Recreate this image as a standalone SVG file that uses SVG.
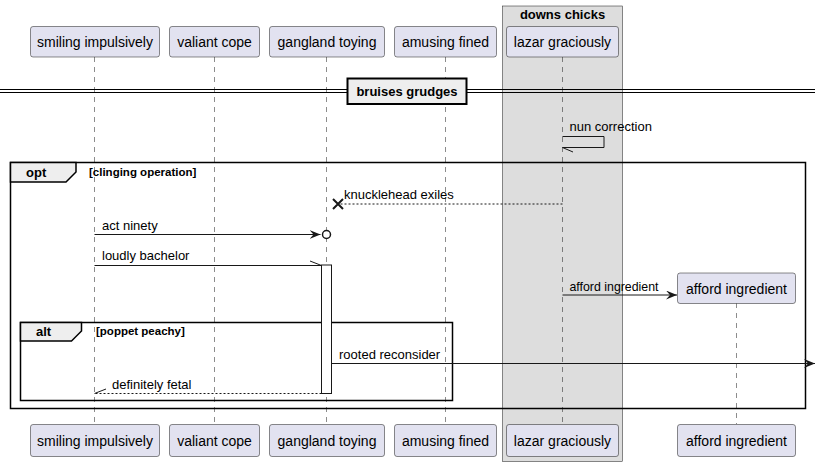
<svg xmlns="http://www.w3.org/2000/svg" width="821" height="466" viewBox="0 0 821 466">
<defs>
<style>
.p{fill:#E2E2F0;stroke:#181818;stroke-width:0.5}
.pt{font-family:"Liberation Sans",Arial,sans-serif;font-size:14px;fill:#000;text-anchor:middle}
.ll{stroke:#181818;stroke-width:0.5;stroke-dasharray:5,5}
.m{stroke:#181818;stroke-width:1;fill:none}
.md{stroke:#181818;stroke-width:1;fill:none;stroke-dasharray:2,2}
.mt{font-family:"Liberation Sans",Arial,sans-serif;font-size:13px;fill:#000}
.fr{fill:none;stroke:#000;stroke-width:1.5}
.tab{fill:#EEEEEE;stroke:#000;stroke-width:1.5}
.fl{font-family:"Liberation Sans",Arial,sans-serif;font-size:13px;font-weight:bold;fill:#000}
.gd{font-family:"Liberation Sans",Arial,sans-serif;font-size:11.5px;font-weight:bold;fill:#000}
</style>
<marker id="ah" markerWidth="11" markerHeight="9" refX="11" refY="4.5" orient="auto" markerUnits="userSpaceOnUse">
<polygon points="0,0 11,4.5 0,9 4,4.5" fill="#181818"/>
</marker>
</defs>
<rect width="821" height="466" fill="#FFFFFF"/>
<g id="box-downs-chicks">
<rect x="502.5" y="6" width="120" height="455.5" fill="#DDDDDD" stroke="#181818" stroke-width="0.5"/>
<text x="562.5" y="19" class="fl" text-anchor="middle">downs chicks</text>
</g>
<g id="lifelines">
<line class="ll" x1="94.5" y1="57" x2="94.5" y2="424"/>
<line class="ll" x1="214.5" y1="57" x2="214.5" y2="424"/>
<line class="ll" x1="326.5" y1="57" x2="326.5" y2="424"/>
<line class="ll" x1="445.5" y1="57" x2="445.5" y2="424"/>
<line class="ll" x1="562.5" y1="57" x2="562.5" y2="424"/>
<line class="ll" x1="736.5" y1="303" x2="736.5" y2="424"/>
</g>
<g id="p-smiling-impulsively">
<rect class="p" x="30.5" y="26.5" width="129" height="30.5" rx="2.5"/>
<text class="pt" x="95" y="47">smiling impulsively</text>
<rect class="p" x="30.5" y="424.5" width="129" height="32" rx="2.5"/>
<text class="pt" x="95" y="446">smiling impulsively</text>
</g>
<g id="p-valiant-cope">
<rect class="p" x="169.5" y="26.5" width="90" height="30.5" rx="2.5"/>
<text class="pt" x="214.5" y="47">valiant cope</text>
<rect class="p" x="169.5" y="424.5" width="90" height="32" rx="2.5"/>
<text class="pt" x="214.5" y="446">valiant cope</text>
</g>
<g id="p-gangland-toying">
<rect class="p" x="269.5" y="26.5" width="115" height="30.5" rx="2.5"/>
<text class="pt" x="327" y="47">gangland toying</text>
<rect class="p" x="269.5" y="424.5" width="115" height="32" rx="2.5"/>
<text class="pt" x="327" y="446">gangland toying</text>
</g>
<g id="p-amusing-fined">
<rect class="p" x="394.5" y="26.5" width="102" height="30.5" rx="2.5"/>
<text class="pt" x="445.5" y="47">amusing fined</text>
<rect class="p" x="394.5" y="424.5" width="102" height="32" rx="2.5"/>
<text class="pt" x="445.5" y="446">amusing fined</text>
</g>
<g id="p-lazar-graciously">
<rect class="p" x="506.5" y="26.5" width="112" height="30.5" rx="2.5"/>
<text class="pt" x="562.5" y="47">lazar graciously</text>
<rect class="p" x="506.5" y="424.5" width="112" height="32" rx="2.5"/>
<text class="pt" x="562.5" y="446">lazar graciously</text>
</g>
<g id="p-afford-ingredient">
<rect class="p" x="677.5" y="273" width="118" height="30.5" rx="2.5"/>
<text class="pt" x="736.5" y="294">afford ingredient</text>
<rect class="p" x="677.5" y="424.5" width="118" height="32" rx="2.5"/>
<text class="pt" x="736.5" y="446">afford ingredient</text>
</g>
<g id="separator">
<line x1="0" y1="89.5" x2="815" y2="89.5" stroke="#000" stroke-width="1"/>
<line x1="0" y1="92.5" x2="815" y2="92.5" stroke="#000" stroke-width="1"/>
<rect x="347.5" y="78.5" width="119" height="25.5" fill="#EEEEEE" stroke="#000" stroke-width="2"/>
<text x="407" y="96" class="fl" text-anchor="middle">bruises grudges</text>
</g>
<g id="frame-opt">
<rect class="fr" x="10.5" y="162.5" width="795" height="246" stroke-width="2"/>
<path class="tab" d="M10.5,162.5 L76,162.5 L76,172 L66,182 L10.5,182 Z"/>
<text class="fl" x="26" y="177">opt</text>
<text class="gd" x="89" y="176">[clinging operation]</text>
</g>
<g id="frame-alt">
<rect class="fr" x="20.5" y="322.5" width="432" height="78"/>
<path class="tab" d="M20.5,322.5 L81.5,322.5 L81.5,331 L71.5,341 L20.5,341 Z"/>
<text class="fl" x="36" y="336">alt</text>
<text class="gd" x="96" y="335">[poppet peachy]</text>
</g>
<g id="activation">
<rect x="321.5" y="265" width="10" height="128.5" fill="#FFFFFF" stroke="#181818" stroke-width="1"/>
</g>
<g id="connectors">
<path class="m" d="M562.5,136.5 L604,136.5 L604,147.5 L562.5,147.5"/>
<line class="m" x1="562.5" y1="147.5" x2="573" y2="152"/>
<text class="mt" x="569.5" y="131">nun correction</text>

<line class="md" x1="562.5" y1="204" x2="340" y2="204"/>
<path d="M333,199 L343,209 M333,209 L343,199" stroke="#181818" stroke-width="2" fill="none"/>
<text class="mt" x="344" y="199">knucklehead exiles</text>

<line class="m" x1="94.5" y1="234.5" x2="320.5" y2="234.5" marker-end="url(#ah)"/>
<circle cx="326.5" cy="234.5" r="4" fill="#FFFFFF" stroke="#181818" stroke-width="1.5"/>
<text class="mt" x="102" y="230">act ninety</text>

<line class="m" x1="94.5" y1="265.5" x2="321.5" y2="265.5"/>
<line class="m" x1="321.5" y1="265.5" x2="310" y2="261"/>
<text class="mt" x="102" y="260">loudly bachelor</text>

<line class="m" x1="562.5" y1="295" x2="677" y2="295" marker-end="url(#ah)"/>
<text class="mt" x="569.5" y="291" textLength="89" lengthAdjust="spacingAndGlyphs">afford ingredient</text>

<line class="m" x1="331.5" y1="363.5" x2="815" y2="363.5" marker-end="url(#ah)"/>
<text class="mt" x="339" y="359">rooted reconsider</text>

<line class="md" x1="321.5" y1="393.5" x2="94.5" y2="393.5"/>
<line class="m" x1="94.5" y1="393.5" x2="106" y2="389"/>
<text class="mt" x="112" y="389">definitely fetal</text>
</g>
</svg>
